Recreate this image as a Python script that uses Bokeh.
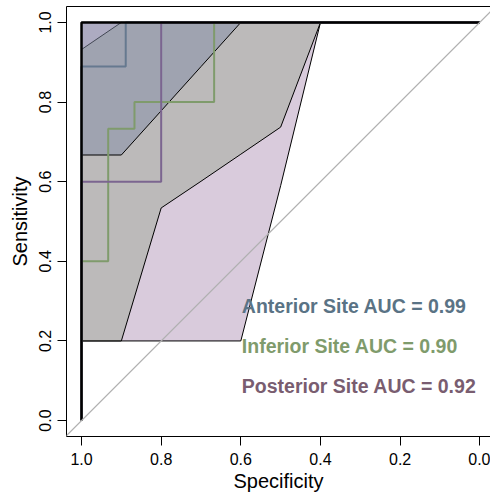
from bokeh.plotting import figure
from bokeh.models import Range1d, FixedTicker, PrintfTickFormatter, Slope, LinearAxis
from bokeh.core.properties import value
from bokeh.embed import file_html
from bokeh.resources import INLINE

# CI grid of specificities
spec_grid = [1.0, 0.9, 0.8, 0.7, 0.6, 0.5, 0.4, 0.3, 0.2, 0.1, 0.0]
# Sensitivity CI bounds
post_lower = [0.20, 0.20, 0.20, 0.20, 0.20, 0.59, 1.0, 1.0, 1.0, 1.0, 1.0]
post_upper = [1.0] * 11
inf_lower = [0.20, 0.20, 0.534, 0.601, 0.669, 0.737, 1.0, 1.0, 1.0, 1.0, 1.0]
inf_upper = [0.932, 1.0, 1.0, 1.0, 1.0, 1.0, 1.0, 1.0, 1.0, 1.0, 1.0]
ant_lower = [0.667, 0.667, 0.778, 0.889, 1.0, 1.0, 1.0, 1.0, 1.0, 1.0, 1.0]
ant_upper = [1.0] * 11

# ROC curves (specificity, sensitivity vertices)
ant_spec = [1.0, 1.0, 0.889, 0.889, 0.0]
ant_sens = [0.0, 0.889, 0.889, 1.0, 1.0]
inf_spec = [1.0, 1.0, 0.933, 0.933, 0.867, 0.867, 0.667, 0.667, 0.0]
inf_sens = [0.0, 0.4, 0.4, 0.733, 0.733, 0.8, 0.8, 1.0, 1.0]
post_spec = [1.0, 1.0, 0.8, 0.8, 0.0]
post_sens = [0.0, 0.6, 0.6, 1.0, 1.0]
base_spec = [1.0, 1.0, 0.0]
base_sens = [0.0, 1.0, 1.0]

labels = ["Anterior Site AUC = 0.99", "Inferior Site AUC = 0.90", "Posterior Site AUC = 0.92"]
label_x = [0.6, 0.6, 0.6]
label_y = [0.3, 0.2, 0.1]
label_colors = ["#5a7385", "#7f9b6c", "#795d70"]
tick_values = [0.0, 0.2, 0.4, 0.6, 0.8, 1.0]

FONT = "Liberation Sans"

p = figure(width=490, height=495, output_backend="svg", toolbar_location=None,
           x_range=Range1d(1.0377, -0.0269), y_range=Range1d(-0.04, 1.04),
           min_border_left=66, min_border_right=0, min_border_top=6, min_border_bottom=59,
           background_fill_color="white", border_fill_color="white")
p.grid.visible = False
p.outline_line_color = None

bx = p.below[0]
ly = p.left[0]

for ax in (bx, ly):
    ax.ticker = FixedTicker(ticks=tick_values)
    ax.formatter = PrintfTickFormatter(format="%.1f")
    ax.minor_tick_line_color = None
    ax.major_tick_in = 0
    ax.major_tick_out = 9
    ax.major_tick_line_color = "black"
    ax.axis_line_color = "black"
    ax.major_label_text_font = FONT
    ax.major_label_text_font_size = "16px"
    ax.major_label_text_color = "black"
    ax.axis_label_text_font = FONT
    ax.axis_label_text_font_size = "20px"
    ax.axis_label_text_font_style = "normal"
    ax.axis_label_text_color = "black"

bx.axis_label = "Specificity"
ly.axis_label = "Sensitivity"
bx.major_label_standoff = 7
bx.axis_label_standoff = 2
ly.major_label_orientation = "vertical"
ly.major_label_standoff = 6
ly.axis_label_standoff = 6

# top frame line (plain axis line, no ticks or labels)
top_ax = LinearAxis(ticker=FixedTicker(ticks=[]), major_tick_out=0, major_tick_in=0,
                    minor_tick_out=0, minor_tick_in=0, major_label_standoff=0,
                    major_label_text_font_size="0px",
                    axis_line_color="black", axis_line_width=1)
p.add_layout(top_ax, "above")

p.add_layout(Slope(gradient=-1, y_intercept=1, line_color="#b0b0b0", line_width=1.2))

def poly(lower, upper):
    xs = spec_grid + spec_grid[::-1]
    ys = upper + lower[::-1]
    return xs, ys

for lo, up, col in [(post_lower, post_upper, "#b397b9"),
                    (inf_lower, inf_upper, "#9fa998"),
                    (ant_lower, ant_upper, "#828ca6")]:
    xs, ys = poly(lo, up)
    p.patch(xs, ys, fill_color=col, fill_alpha=0.5, line_color="black", line_width=1)

p.line(ant_spec, ant_sens, line_color="#66798f", line_width=2)
p.line(inf_spec, inf_sens, line_color="#7f9b6c", line_width=2)
p.line(post_spec, post_sens, line_color="#7b6590", line_width=2)
p.line(base_spec, base_sens, line_color="black", line_width=2.5)

p.text(x=label_x, y=label_y, text=labels, text_color=label_colors,
       text_font=value(FONT), text_font_size="19.5px", text_font_style="bold",
       text_align="left", text_baseline="middle", x_offset=1, y_offset=5)

open("out.html", "w").write(file_html(p, INLINE))
